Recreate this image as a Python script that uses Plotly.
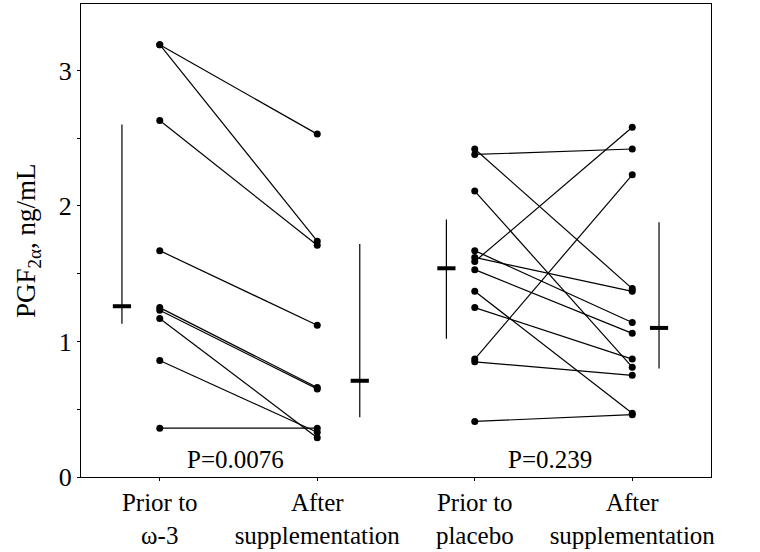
import plotly.graph_objects as go

# ---- data ----
categories = ["Prior to<br>ω-3", "After<br>supplementation", "Prior to<br>placebo", "After<br>supplementation"]
cat_pos = [1, 2, 3, 4]

omega_prior = [3.19, 3.19, 2.63, 1.67, 1.25, 1.23, 1.17, 0.86, 0.36]
omega_after = [2.53, 1.74, 1.71, 1.12, 0.66, 0.65, 0.29, 0.33, 0.36]

placebo_prior = [2.42, 2.38, 2.11, 1.67, 1.62, 1.59, 1.53, 1.37, 1.25, 0.87, 0.85, 0.41]
placebo_after = [1.39, 2.42, 0.81, 1.14, 1.37, 2.58, 1.06, 0.47, 0.87, 2.23, 0.75, 0.46]

# summary bars: position, centre, low, high
summary_x = [0.76, 2.27, 2.82, 4.17]
summary_mid = [1.26, 0.71, 1.54, 1.10]
summary_lo = [1.13, 0.44, 1.02, 0.80]
summary_hi = [2.60, 1.72, 1.90, 1.88]

p_labels = ["P=0.0076", "P=0.239"]
p_x = [1.48, 3.48]
p_y = [0.13, 0.13]

FONT = "Liberation Serif"
fig = go.Figure()

def add_pairs(prior, after, x0, x1):
    xs, ys = [], []
    for a, b in zip(prior, after):
        xs += [x0, x1, None]
        ys += [a, b, None]
    fig.add_trace(go.Scatter(x=xs, y=ys, mode="lines+markers",
                             line=dict(color="black", width=1.2),
                             marker=dict(color="black", size=7),
                             showlegend=False, hoverinfo="skip"))

add_pairs(omega_prior, omega_after, cat_pos[0], cat_pos[1])
add_pairs(placebo_prior, placebo_after, cat_pos[2], cat_pos[3])

# vertical range bars
xs, ys = [], []
for x, lo, hi in zip(summary_x, summary_lo, summary_hi):
    xs += [x, x, None]
    ys += [lo, hi, None]
fig.add_trace(go.Scatter(x=xs, y=ys, mode="lines",
                         line=dict(color="black", width=1.2),
                         showlegend=False, hoverinfo="skip"))
# centre marks
fig.add_trace(go.Scatter(x=summary_x, y=summary_mid, mode="markers",
                         marker=dict(symbol="line-ew", size=13,
                                     line=dict(color="black", width=4)),
                         showlegend=False, hoverinfo="skip"))

for t, x, y in zip(p_labels, p_x, p_y):
    fig.add_annotation(x=x, y=y, text=t, showarrow=False,
                       font=dict(family=FONT, size=25, color="black"),
                       xanchor="center", yanchor="middle")

fig.add_annotation(x=-0.085, y=0.5, xref="paper", yref="paper",
                   text="PGF<sub>2α</sub>, ng/mL", textangle=-90,
                   showarrow=False, xanchor="center", yanchor="middle",
                   font=dict(family=FONT, size=27, color="black"))

fig.update_layout(
    width=760, height=552,
    margin=dict(l=81, r=49, t=3, b=73),
    paper_bgcolor="white", plot_bgcolor="white",
    font=dict(family=FONT, size=25, color="black"),
    xaxis=dict(range=[0.5, 4.5], tickvals=cat_pos, ticktext=categories,
               showgrid=False, zeroline=False, showline=True, mirror=True,
               linecolor="black", linewidth=1.3, ticks="outside", ticklen=3,
               tickcolor="black", tickfont=dict(family=FONT, size=25)),
    yaxis=dict(range=[0, 3.49], tickvals=[0, 1, 2, 3],
               showgrid=False, zeroline=False, showline=True, mirror=True,
               linecolor="black", linewidth=1.3, ticks="outside", ticklen=3,
               tickcolor="black", tickfont=dict(family=FONT, size=26),
               minor=dict(tickvals=[0.5, 1.5, 2.5], ticks="outside", ticklen=3,
                          tickcolor="black", showgrid=False)),
)

fig.write_html("out.html", config={"displayModeBar": False},
               post_script="document.body.style.margin='0px';")
